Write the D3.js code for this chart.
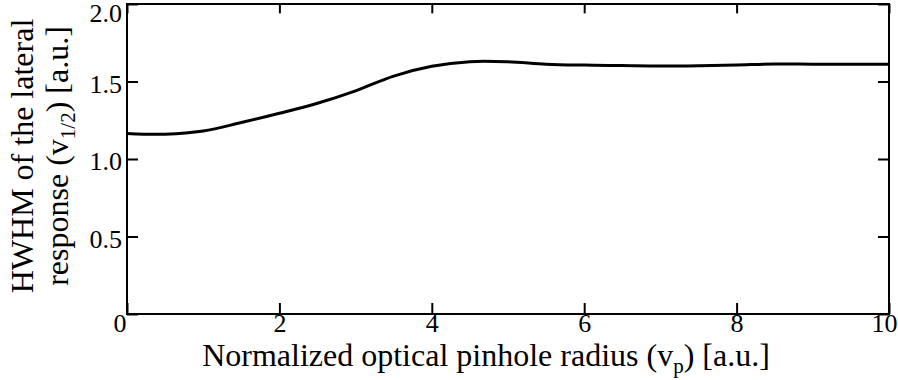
<!DOCTYPE html>
<html>
<head>
<meta charset="utf-8">
<script src="https://cdn.jsdelivr.net/npm/d3@7"></script>
<style>
  body { margin: 0; background: #fff; }
  svg text { font-family: "Liberation Serif", "Times New Roman", serif !important; fill: #000; }
</style>
</head>
<body>
<div id="chart"></div>
<script>
// pinhole radius (vp) and HWHM of the lateral response
var radius = [0, 0.5, 1, 1.5, 2, 2.5, 3, 3.5, 4, 4.5, 5, 5.5, 6, 6.5, 7, 7.5, 8, 8.5, 9, 9.5, 10];
var hwhm = [1.165, 1.16, 1.18, 1.235, 1.295, 1.36, 1.44, 1.535, 1.598, 1.628, 1.627, 1.612, 1.606, 1.603, 1.600, 1.602, 1.607, 1.613, 1.612, 1.612, 1.612];

var xTicks = [0, 2, 4, 6, 8, 10];
var yTicks = [0, 0.5, 1.0, 1.5, 2.0];

var svgWidth = 898;
var svgHeight = 380;

var margin = { top: 4, right: 9, bottom: 66, left: 127 };

var width = svgWidth - margin.left - margin.right;
var height = svgHeight - margin.top - margin.bottom;

var svg = d3.select("#chart")
  .append("svg")
  .attr("width", svgWidth)
  .attr("height", svgHeight);

var chartGroup = svg.append("g")
  .attr("transform", `translate(${margin.left}, ${margin.top})`);

var xScale = d3.scaleLinear().domain([0, 10]).range([0, width]);
var yScale = d3.scaleLinear().domain([0, 2]).range([height, 0]);

var tickLen = 11;

// bottom axis with labels
var bottom = chartGroup.append("g")
  .attr("transform", `translate(0, ${height})`)
  .call(d3.axisBottom(xScale).tickValues(xTicks).tickSizeInner(-tickLen).tickSizeOuter(0)
    .tickFormat(d3.format("d")));

bottom.selectAll("text")
  .attr("y", 18)
  .attr("dy", 0)
  .each(function(d) {
    if (d === 0) d3.select(this).attr("text-anchor", "end").attr("x", -1);
    if (d === 10) d3.select(this).attr("text-anchor", "end").attr("x", 8);
  });

// top axis, ticks only
chartGroup.append("g")
  .call(d3.axisTop(xScale).tickValues(xTicks).tickSizeInner(-tickLen * 0.85).tickSizeOuter(0).tickFormat(""));

// left axis with labels
var left = chartGroup.append("g")
  .call(d3.axisLeft(yScale).tickValues(yTicks).tickSizeInner(-tickLen).tickSizeOuter(0)
    .tickPadding(5).tickFormat(d => d === 0 ? "" : d3.format(".1f")(d)));

left.selectAll("text")
  .attr("dy", "0.42em")
  .each(function(d) {
    if (d === 2) d3.select(this).attr("dy", "0.68em");
  });

// right axis, ticks only
chartGroup.append("g")
  .attr("transform", `translate(${width}, 0)`)
  .call(d3.axisRight(yScale).tickValues(yTicks).tickSizeInner(-tickLen).tickSizeOuter(0).tickFormat(""));

chartGroup.selectAll("g")
  .attr("font-family", null)
  .attr("font-size", 26);
chartGroup.selectAll(".domain").remove();
chartGroup.selectAll(".tick line").attr("stroke", "#000").attr("stroke-width", 2);

// frame
chartGroup.append("rect")
  .attr("width", width)
  .attr("height", height)
  .attr("fill", "none")
  .attr("stroke", "#000")
  .attr("stroke-width", 2);

// the curve
var points = radius.map((r, i) => [r, hwhm[i]]);
var line = d3.line()
  .x(d => xScale(d[0]))
  .y(d => yScale(d[1]))
  .curve(d3.curveCatmullRom);

chartGroup.append("path")
  .datum(points)
  .attr("d", line)
  .attr("fill", "none")
  .attr("stroke", "#000")
  .attr("stroke-width", 3);

// x axis title
var xTitle = svg.append("text")
  .attr("x", 486)
  .attr("y", 366)
  .attr("text-anchor", "middle")
  .attr("font-size", "32px");
xTitle.append("tspan").text("Normalized optical pinhole radius (v");
xTitle.append("tspan").attr("font-size", "21px").attr("dy", 7).text("p");
xTitle.append("tspan").attr("dy", -7).text(") [a.u.]");

// y axis title, two lines
var yc = 156;
svg.append("text")
  .attr("transform", `translate(33, ${yc}) rotate(-90)`)
  .attr("text-anchor", "middle")
  .attr("font-size", "32px")
  .text("HWHM of the lateral");

var yTitle2 = svg.append("text")
  .attr("transform", `translate(68, ${yc}) rotate(-90)`)
  .attr("text-anchor", "middle")
  .attr("font-size", "32px");
yTitle2.append("tspan").text("response (v");
yTitle2.append("tspan").attr("font-size", "21px").attr("dy", 7).text("1/2");
yTitle2.append("tspan").attr("dy", -7).text(") [a.u.]");
</script>
</body>
</html>
